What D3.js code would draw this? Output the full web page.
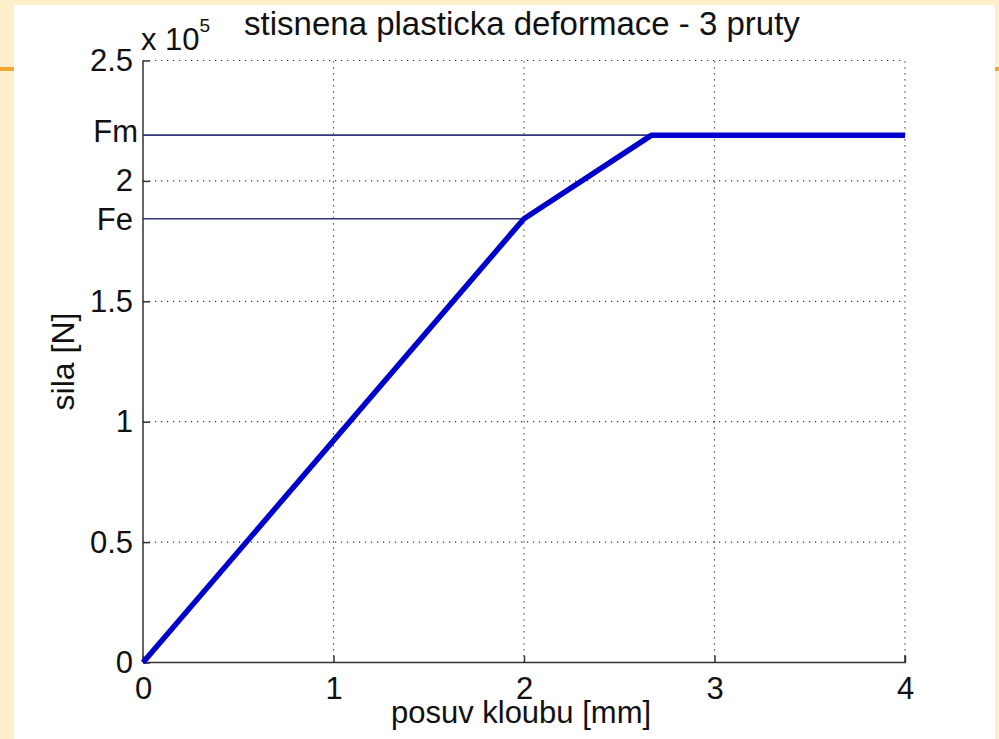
<!DOCTYPE html>
<html>
<head>
<meta charset="utf-8">
<script src="https://cdn.jsdelivr.net/npm/d3@7"></script>
<style>
    html, body { margin: 0; padding: 0; }
    body { width: 999px; height: 739px; overflow: hidden; background: #fdefc9; }
    svg { display: block; font-family: "Liberation Sans", Arial, sans-serif; }
</style>
</head>
<body>
<div id="chart"></div>
<script>
// posuv kloubu [mm] vs sila [N]
const posuv = [0, 2, 2.67, 4];
const sila = [0, 1.843e5, 2.19e5, 2.19e5];
const xTicks = [0, 1, 2, 3, 4];
const yTicks = [0, 0.5e5, 1e5, 1.5e5, 2e5, 2.5e5];
const refNames = ["Fm", "Fe"];
const refValues = [2.19e5, 1.843e5];
const refEnds = [2.67, 2];

document.addEventListener("DOMContentLoaded", function() {
    const width = 999;
    const height = 739;

    const svg = d3.select('#chart')
        .append('svg')
        .attr('width', width)
        .attr('height', height);

    // slide decoration
    svg.append('rect').attr('x', 0).attr('y', 0).attr('width', width).attr('height', height).attr('fill', '#fdefc9');
    svg.append('rect').attr('x', 0).attr('y', 67).attr('width', width).attr('height', 4).attr('fill', '#f2a533');
    svg.append('rect').attr('x', 14).attr('y', 5).attr('width', 981).attr('height', height - 5).attr('fill', '#ffffff');

    const xScale = d3.scaleLinear().domain([0, 4]).range([143, 905]);
    const yScale = d3.scaleLinear().domain([0, 2.5e5]).range([662.5, 60.5]);

    // grid
    const grid = svg.append('g').attr('class', 'grid')
        .attr('stroke', '#333').attr('stroke-width', 1.2).attr('stroke-dasharray', '1.2,4.8');
    grid.selectAll('.gx').data(xTicks.slice(1)).join('line')
        .attr('x1', d => xScale(d)).attr('x2', d => xScale(d))
        .attr('y1', yScale(0)).attr('y2', yScale(2.5e5));
    grid.selectAll('.gy').data(yTicks.slice(1)).join('line')
        .attr('x1', xScale(0)).attr('x2', xScale(4))
        .attr('y1', d => yScale(d)).attr('y2', d => yScale(d));

    // reference lines Fm, Fe
    svg.append('g').selectAll('line').data(refValues).join('line')
        .attr('x1', xScale(0))
        .attr('x2', (d, i) => xScale(refEnds[i]))
        .attr('y1', d => yScale(d)).attr('y2', d => yScale(d))
        .attr('stroke', '#35357a').attr('stroke-width', 1.6);

    // axes
    const xAxis = d3.axisBottom(xScale).tickValues(xTicks).tickSize(-7).tickPadding(14).tickFormat(d3.format('d'));
    const yAxis = d3.axisLeft(yScale).tickValues(yTicks).tickSize(-7).tickPadding(10).tickFormat(d => d / 1e5);

    const gx = svg.append('g').attr('transform', `translate(0,${yScale(0)})`).call(xAxis);
    const gy = svg.append('g').attr('transform', `translate(${xScale(0)},0)`).call(yAxis);
    [gx, gy].forEach(g => {
        g.select('.domain').attr('stroke', '#333').attr('stroke-width', 1.5);
        g.selectAll('.tick line').attr('stroke', '#333').attr('stroke-width', 1.5);
        g.selectAll('.tick text').attr('fill', '#111').style('font-size', '31px');
    });
    gx.select('.domain').attr('d', `M${xScale(0)},0H${xScale(4)}V-7`);
    gy.select('.domain').attr('d', `M0,${yScale(0)}V${yScale(2.5e5)}`);
    gx.selectAll('.tick text').attr('dy', '0.71em');

    // reference labels
    svg.append('g').selectAll('text').data(refNames).join('text')
        .attr('x', (d, i) => i === 0 ? 138 : 133)
        .attr('y', (d, i) => yScale(refValues[i]) - (i === 0 ? 4 : 0))
        .attr('dy', '0.35em')
        .attr('text-anchor', 'end')
        .attr('fill', '#111')
        .style('font-size', '31px')
        .text(d => d);

    // main curve
    const line = d3.line().x((d, i) => xScale(posuv[i])).y(d => yScale(d));
    svg.append('path')
        .datum(sila)
        .attr('d', line)
        .attr('fill', 'none')
        .attr('stroke', '#0000cc')
        .attr('stroke-width', 5.5)
        .attr('stroke-linejoin', 'round');

    // exponent
    const expo = svg.append('text').attr('x', 141).attr('y', 50).attr('fill', '#111').style('font-size', '31px');
    expo.append('tspan').text('x 10');
    expo.append('tspan').attr('dy', -18).style('font-size', '19px').text('5');

    // title and labels
    svg.append('text')
        .attr('x', 522).attr('y', 35)
        .attr('text-anchor', 'middle')
        .attr('fill', '#111')
        .style('font-size', '33px')
        .text('stisnena plasticka deformace - 3 pruty');

    svg.append('text')
        .attr('x', 521).attr('y', 723)
        .attr('text-anchor', 'middle')
        .attr('fill', '#111')
        .style('font-size', '31px')
        .text('posuv kloubu [mm]');

    svg.append('text')
        .attr('transform', `translate(74,${(yScale(0) + yScale(2.5e5)) / 2}) rotate(-90)`)
        .attr('text-anchor', 'middle')
        .attr('fill', '#111')
        .style('font-size', '32px')
        .text('sila [N]');
});
</script>
</body>
</html>
